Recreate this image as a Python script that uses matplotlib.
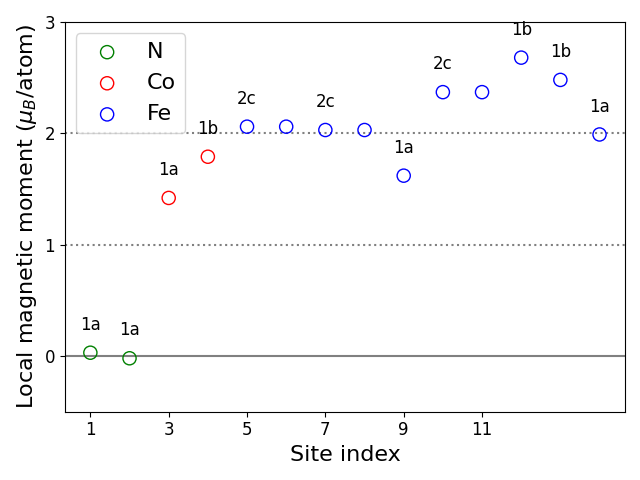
import numpy as np
import matplotlib.pyplot as plt

site = np.arange(1, 15)
moment = [0.03, -0.02, 1.42, 1.79, 2.06, 2.06, 2.03, 2.03, 1.62, 2.37, 2.37, 2.68, 2.48, 1.99]
species = ['N', 'N', 'Co', 'Co'] + ['Fe'] * 10
colors = {'N': 'green', 'Co': 'red', 'Fe': 'blue'}
wyckoff = {1: '1a', 2: '1a', 3: '1a', 4: '1b', 5: '2c', 7: '2c', 9: '1a',
           10: '2c', 12: '1b', 13: '1b', 14: '1a'}

fig, ax = plt.subplots(figsize=(6.4, 4.8), dpi=100)
ax.axhline(0, color='grey', lw=1.5)
ax.axhline(1, color='grey', ls=':', lw=1.5)
ax.axhline(2, color='grey', ls=':', lw=1.5)

for sp in ['N', 'Co', 'Fe']:
  idx = [i for i, s in enumerate(species) if s == sp]
  ax.scatter(site[idx], np.array(moment)[idx], s=90, facecolors='none',
             edgecolors=colors[sp], label=sp, zorder=3)

for k, lab in wyckoff.items():
  ax.text(k, moment[k - 1] + 0.25, lab, ha='center', va='center', fontsize=12)

ax.set_ylim(-0.5, 3)
ax.set_xticks([1, 3, 5, 7, 9, 11])
ax.set_yticks([0, 1, 2, 3])
ax.tick_params(labelsize=12)
ax.set_xlabel('Site index', fontsize=16)
ax.set_ylabel(r'Local magnetic moment ($\mu_B$/atom)', fontsize=16)
ax.legend(loc='upper left', fontsize=16)
plt.tight_layout()
plt.savefig('out.png')
